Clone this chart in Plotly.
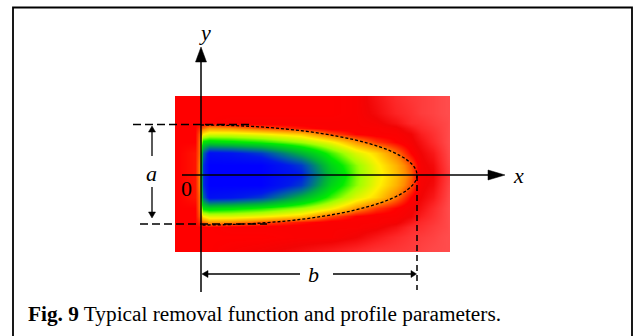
import plotly.graph_objects as go

# ---- data: removal-function map (value 0..1, 1 = max removal)
X_COLS = [-25, -23, -6, -2, 2, 8, 30, 60, 100, 130, 155, 175, 195, 210, 220, 232, 246, 248]
Y_ROWS = [78, 76, 62, 52, 47, 41, 33, 22, 10, 0, -10, -22, -33, -41, -47, -52, -62, -74, -76]

R_78 = [.22, .22, .22, .22, .22, .22, .22, .22, .22, .22, .21, .17, .13, .11, .10, .09, .07, .07]
R_62 = [.22, .22, .22, .22, .22, .22, .22, .22, .22, .22, .21, .18, .14, .12, .10, .09, .07, .07]
R_52 = [.22, .22, .22, .22, .22, .22, .21, .21, .21, .21, .21, .20, .17, .13, .12, .10, .08, .07]
R_47 = [.22, .22, .22, .24, .27, .30, .29, .26, .23, .21, .21, .21, .20, .16, .13, .11, .08, .07]
R_41 = [.22, .22, .22, .26, .37, .40, .40, .38, .34, .26, .22, .21, .21, .19, .15, .12, .08, .07]
R_33 = [.22, .22, .22, .27, .55, .57, .55, .52, .45, .38, .30, .25, .22, .20, .17, .13, .08, .07]
R_22 = [.22, .22, .23, .27, .78, .94, .92, .85, .65, .50, .40, .35, .28, .22, .19, .16, .09, .08]
R_10 = [.22, .22, .23, .28, .86, 1.0, 1.0, 1.0, .85, .58, .46, .38, .32, .26, .20, .18, .10, .09]
R_00 = [.22, .22, .23, .28, .86, 1.0, 1.0, 1.0, .90, .62, .47, .39, .33, .27, .20, .19, .11, .10]
R_M10 = [.22, .22, .23, .28, .86, 1.0, 1.0, 1.0, .85, .58, .46, .38, .32, .26, .20, .18, .10, .09]
R_M22 = [.22, .22, .23, .27, .78, .94, .92, .85, .65, .50, .40, .35, .28, .22, .19, .16, .09, .08]
R_M33 = [.22, .22, .22, .27, .55, .57, .55, .52, .45, .38, .30, .25, .22, .20, .17, .13, .08, .07]
R_M41 = [.22, .22, .22, .26, .37, .40, .40, .38, .34, .26, .22, .21, .21, .19, .15, .12, .08, .07]
R_M47 = [.22, .22, .22, .24, .27, .30, .29, .26, .23, .21, .21, .21, .20, .16, .13, .11, .08, .07]
R_M52 = [.22, .22, .22, .22, .22, .22, .21, .21, .21, .21, .21, .20, .17, .13, .12, .10, .08, .07]
R_M62 = [.22, .22, .22, .22, .22, .22, .22, .22, .21, .21, .19, .16, .13, .11, .10, .09, .07, .07]
R_M76 = [.22, .22, .22, .22, .22, .22, .21, .20, .18, .16, .14, .12, .11, .10, .09, .08, .07, .07]

Z = [R_78, R_78, R_62, R_52, R_47, R_41, R_33, R_22, R_10, R_00,
     R_M10, R_M22, R_M33, R_M41, R_M47, R_M52, R_M62, R_M76, R_M76]

# profile parameters (same units as the map)
A_WIDTH = 100   # a: full width of the profile
B_LENGTH = 216  # b: length of the profile

CAPTION_BOLD = "Fig. 9"
CAPTION_TEXT = "Typical removal function and profile parameters."

COLORSCALE = [
    [0.00, "rgb(255,105,105)"],
    [0.08, "rgb(255,72,72)"],
    [0.14, "rgb(253,36,36)"],
    [0.19, "rgb(242,4,4)"],
    [0.22, "rgb(255,0,0)"],
    [0.29, "rgb(255,140,0)"],
    [0.37, "rgb(255,240,0)"],
    [0.45, "rgb(160,255,0)"],
    [0.53, "rgb(0,235,0)"],
    [0.66, "rgb(0,175,60)"],
    [0.80, "rgb(0,90,170)"],
    [0.90, "rgb(0,25,235)"],
    [1.00, "rgb(0,0,255)"],
]

fig = go.Figure()
fig.add_trace(go.Heatmap(
    x=X_COLS, y=Y_ROWS, z=Z, zmin=0, zmax=1, zsmooth="best",
    colorscale=COLORSCALE, showscale=False, hoverinfo="skip",
))

BLACK = "black"
shapes = []

def line(x0, y0, x1, y1, width=1.5, dash="solid"):
    shapes.append(dict(type="line", xref="x", yref="y", x0=x0, y0=y0, x1=x1, y1=y1,
                       line=dict(color=BLACK, width=width, dash=dash), layer="above"))

def tri(p):
    path = "M {} {} L {} {} L {} {} Z".format(*p)
    shapes.append(dict(type="path", xref="x", yref="y", path=path,
                       fillcolor=BLACK, line=dict(color=BLACK, width=0.5), layer="above"))

# frame
shapes.append(dict(type="rect", xref="x", yref="y", x0=-188, y0=167.5, x1=431, y1=-185,
                   line=dict(color=BLACK, width=1.8), fillcolor="rgba(0,0,0,0)", layer="above"))

# y axis with arrow
line(0, -117, 0, 114)
tri([0, 128, -5.5, 113, 5.5, 113])
# x axis with arrow
line(-19, 0, 288, 0)
tri([304, 0, 287, 5, 287, -5])

# dashed profile (half ellipse, Bezier approximation)
k = 0.5523
hb, ha = B_LENGTH, A_WIDTH / 2
ell = (f"M 0 {ha} C {k*hb} {ha} {hb} {k*ha} {hb} 0 "
       f"C {hb} {-k*ha} {k*hb} {-ha} 0 {-ha}")
shapes.append(dict(type="path", xref="x", yref="y", path=ell,
                   line=dict(color=BLACK, width=1.3, dash="3px,2px"), layer="above"))

# a: extension lines and arrows
line(-68, ha + 0.5, 51, ha + 0.5, width=1.3, dash="8px,4px")
line(-61, -ha + 1, 66, -ha + 1, width=1.3, dash="8px,4px")
line(-49, 19, -49, 44, width=1.3)
tri([-49, 49, -52.5, 43, -45.5, 43])
line(-49, -12, -49, -37, width=1.3)
tri([-49, -43, -52.5, -37, -45.5, -37])

# b: extension line and arrows
line(hb, 0, hb, -115, width=1.5, dash="6px,4px")
line(7, -99, 99, -99, width=1.3)
tri([1, -99, 7, -95.5, 7, -102.5])
line(132, -99, 210, -99, width=1.3)
tri([hb - 0.5, -99, 210, -95.5, 210, -102.5])

FONT = "Liberation Serif"
ann = []
def label(x, y, text, size=22, xanchor="center"):
    ann.append(dict(x=x, y=y, xref="x", yref="y", text=text, showarrow=False,
                    font=dict(family=FONT, size=size, color=BLACK),
                    xanchor=xanchor, yanchor="middle"))

label(4, 143, "<i>y</i>")
label(317, 0, "<i>x</i>")
label(-50, 2, "<i>a</i>")
label(-15, -13, "0")
label(112, -99, "<i>b</i>")
label(-175, -139, f"<b>{CAPTION_BOLD}</b> {CAPTION_TEXT}", size=21.3, xanchor="left")

fig.update_layout(
    width=638, height=336, margin=dict(l=0, r=0, t=0, b=0),
    paper_bgcolor="white", plot_bgcolor="white",
    xaxis=dict(range=[-201, 437], visible=False, fixedrange=True),
    yaxis=dict(range=[-161, 175], visible=False, fixedrange=True),
    shapes=shapes, annotations=ann, showlegend=False,
)
fig.write_html("out.html")
